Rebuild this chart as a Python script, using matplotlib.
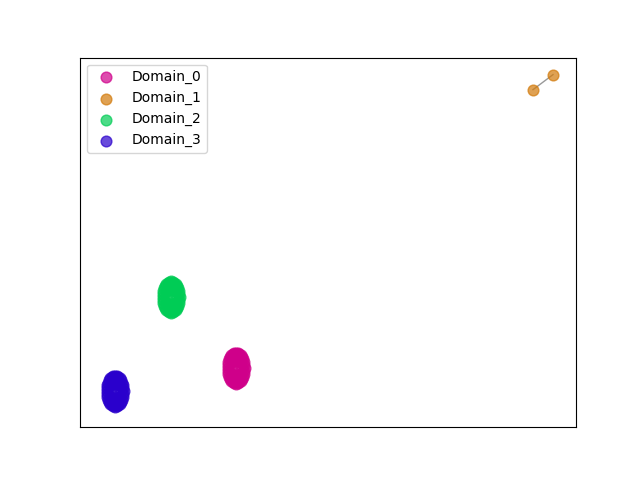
import matplotlib
matplotlib.use("Agg")
import matplotlib.pyplot as plt

domains = ["Domain_0", "Domain_1", "Domain_2", "Domain_3"]
colors = ["#cf008a", "#d27a0a", "#00cc55", "#2a00cc"]

# embedding coordinates per domain
d0_x = [244.5, 243.9, 242.0, 239.3, 236, 232.8, 230.0, 228.2, 227.5, 228.2, 230.0, 232.8,
        236, 239.3, 242.0, 243.9, 236, 240, 232, 240, 232, 236, 236,
        244.3, 243.1, 240.7, 237.7, 234.3, 231.3, 228.9, 227.7, 227.7, 228.9, 231.3, 234.3,
        237.7, 240.7, 243.1, 244.3,
        241.5, 239.9, 236, 232.1, 230.5, 232.1, 236, 239.9]
d0_y = [112, 117.9, 123.0, 126.3, 127.5, 126.3, 123.0, 117.9, 112, 106.1, 101.0, 97.7,
        96.5, 97.7, 101.0, 106.1, 112, 118, 118, 106, 106, 122, 102,
        115.0, 120.6, 124.9, 127.2, 127.2, 124.9, 120.6, 115.0, 109.0, 103.4, 99.1, 96.8,
        96.8, 99.1, 103.4, 109.0,
        112, 119.1, 122, 119.1, 112, 104.9, 102, 104.9]
d1_x = [533, 553]
d1_y = [390, 405]
d2_x = [179.5, 178.9, 177.0, 174.3, 171, 167.8, 165.0, 163.2, 162.5, 163.2, 165.0, 167.8,
        171, 174.3, 177.0, 178.9, 171, 175, 167, 175, 167, 171, 171,
        179.3, 178.1, 175.7, 172.7, 169.3, 166.3, 163.9, 162.7, 162.7, 163.9, 166.3, 169.3,
        172.7, 175.7, 178.1, 179.3,
        176.5, 174.9, 171, 167.1, 165.5, 167.1, 171, 174.9]
d2_y = [183, 188.9, 194.0, 197.3, 198.5, 197.3, 194.0, 188.9, 183, 177.1, 172.0, 168.7,
        167.5, 168.7, 172.0, 177.1, 183, 189, 189, 177, 177, 193, 173,
        186.0, 191.6, 195.9, 198.2, 198.2, 195.9, 191.6, 186.0, 180.0, 174.4, 170.1, 167.8,
        167.8, 170.1, 174.4, 180.0,
        183, 190.1, 193, 190.1, 183, 175.9, 173, 175.9]
d3_x = [123.5, 122.9, 121.0, 118.3, 115, 111.8, 109.0, 107.2, 106.5, 107.2, 109.0, 111.8,
        115, 118.3, 121.0, 122.9, 115, 119, 111, 119, 111, 115, 115,
        123.3, 122.1, 119.7, 116.7, 113.3, 110.3, 107.9, 106.7, 106.7, 107.9, 110.3, 113.3,
        116.7, 119.7, 122.1, 123.3,
        120.5, 118.9, 115, 111.1, 109.5, 111.1, 115, 118.9]
d3_y = [89, 94.9, 100.0, 103.3, 104.5, 103.3, 100.0, 94.9, 89, 83.1, 78.0, 74.7,
        73.5, 74.7, 78.0, 83.1, 89, 95, 95, 83, 83, 99, 79,
        92.0, 97.6, 101.9, 104.2, 104.2, 101.9, 97.6, 92.0, 86.0, 80.4, 76.1, 73.8,
        73.8, 76.1, 80.4, 86.0,
        89, 96.1, 99, 96.1, 89, 81.9, 79, 81.9]

xs = [d0_x, d1_x, d2_x, d3_x]
ys = [d0_y, d1_y, d2_y, d3_y]

fig, ax = plt.subplots(figsize=(6.4, 4.8), dpi=100)
for name, c, x, y in zip(domains, colors, xs, ys):
    ax.scatter(x, y, s=60, color=c, alpha=0.7, label=name)
ax.plot(d1_x, d1_y, color="gray", linewidth=1, alpha=0.8, zorder=0)

ax.set_xlim(80, 576)
ax.set_ylim(53, 422)
ax.set_xticks([])
ax.set_yticks([])
ax.legend(loc="upper left")
fig.savefig("out.png")
